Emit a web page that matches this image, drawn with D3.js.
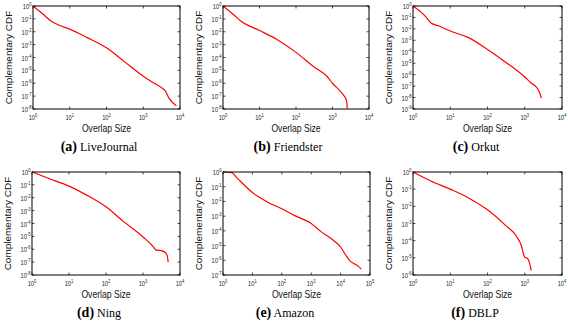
<!DOCTYPE html>
<html><head><meta charset="utf-8">
<script src="https://cdn.jsdelivr.net/npm/d3@7"></script>
<style>
html,body{margin:0;padding:0;background:#fff;}
svg{display:block;}
</style></head>
<body>
<svg id="chart" width="568" height="322"></svg>
<script>
// ---- Data ----
const panelLetters = ["a","b","c","d","e","f"];
const panelNames = ["LiveJournal","Friendster","Orkut","Ning","Amazon","DBLP"];
const xAxisLabel = "Overlap Size";
const yAxisLabel = "Complementary CDF";

// x-axis decades (max exponent) and y-axis decades (min exponent) per panel
const xMaxExp = [4,4,4,4,5,4];
const yMinExp = [-8,-8,-9,-8,-7,-6];

const liveJournalX = [1,2,3,5,10,30,100,300,1000,2000,3000,4000,5000,8000];
const liveJournalY = [1,2.0e-1,7.2e-2,3.3e-2,1.6e-2,3.5e-3,5.6e-4,5.0e-5,3.5e-6,1.0e-6,5.0e-7,2.5e-7,7.0e-8,1.8e-8];

const friendsterX = [1,2,3,10,30,100,300,700,1000,2000,2400,2500,2520];
const friendsterY = [1,2.0e-1,7.1e-2,1.26e-2,2.5e-3,2.5e-4,2.0e-5,3.5e-6,1.0e-6,1.2e-7,5.0e-8,2.5e-8,1.1e-8];

const orkutX = [1,2,3,5,10,30,100,300,1000,1500,2000,2500,2800];
const orkutY = [1,1.6e-1,3.5e-2,1.8e-2,6.5e-3,1.8e-3,1.6e-4,1.3e-5,6.3e-7,1.8e-7,9.0e-8,2.8e-8,9.0e-9];

const ningX = [1,3,10,30,100,300,1000,2000,2200,3000,4000,4500,4800];
const ningY = [1,3.0e-1,8.0e-2,1.6e-2,2.0e-3,1.4e-4,9.0e-6,1.3e-6,9.0e-7,8.0e-7,5.6e-7,3.2e-7,1.0e-7];

const amazonX = [1,2,3,10,30,100,300,1000,2000,5000,10000,15000,20000,30000,40000,50000];
const amazonY = [1,9.0e-1,4.0e-1,4.0e-2,1.0e-2,3.2e-3,1.0e-3,3.2e-4,1.0e-4,2.8e-5,8.0e-6,2.2e-6,1.0e-6,5.6e-7,4.0e-7,2.5e-7];

const dblpX = [1,3,10,30,100,300,600,800,1000,1200,1400,1500];
const dblpY = [1,3.0e-1,1.0e-1,3.2e-2,6.3e-3,8.0e-4,1.8e-4,5.6e-5,1.1e-5,9.0e-6,3.5e-6,1.8e-6];

const seriesX = [liveJournalX, friendsterX, orkutX, ningX, amazonX, dblpX];
const seriesY = [liveJournalY, friendsterY, orkutY, ningY, amazonY, dblpY];

// ---- Layout ----
const frames = [
  {l:33, r:180, t:6, b:109},
  {l:223, r:369, t:6, b:109},
  {l:413, r:562, t:6, b:109},
  {l:32, r:180, t:172, b:275},
  {l:223, r:370, t:172, b:275},
  {l:413, r:562, t:172, b:275}
];
const captionX = [99, 288, 476, 99, 285, 475];
const captionY = [151, 151, 151, 317, 317, 317];
const SQ = 0.82; // horizontal squeeze of the figure's sans text

const svg = d3.select("#chart");
const sans = "Liberation Sans, Arial, Helvetica, sans-serif";
const serif = "Liberation Serif, Times New Roman, serif";

function powLabel(sel, exp, baseSize){
  sel.append("tspan").text("10");
  sel.append("tspan").attr("dy", -3).attr("font-size", baseSize*0.72).text(String(exp));
}

frames.forEach((f, i) => {
  const x = d3.scaleLog().domain([1, Math.pow(10, xMaxExp[i])]).range([f.l, f.r]);
  const y = d3.scaleLog().domain([Math.pow(10, yMinExp[i]), 1]).range([f.b, f.t]);
  const g = svg.append("g");

  const xExps = d3.range(0, xMaxExp[i]+1);
  const yExps = d3.range(yMinExp[i], 1);

  // ticks (inward) on all sides
  const tl = 2.5;
  xExps.forEach(e => {
    const px = x(Math.pow(10,e));
    g.append("line").attr("x1",px).attr("x2",px).attr("y1",f.b).attr("y2",f.b-tl).attr("stroke","#000").attr("stroke-width",0.7);
    g.append("line").attr("x1",px).attr("x2",px).attr("y1",f.t).attr("y2",f.t+tl).attr("stroke","#000").attr("stroke-width",0.7);
    const lab = g.append("g").attr("transform", `translate(${px},${f.b+10.5}) scale(${SQ},1)`)
      .append("text").attr("text-anchor","middle").attr("font-family",sans).attr("font-size",7).attr("fill","#222");
    powLabel(lab, e, 7);
  });
  yExps.forEach(e => {
    const py = y(Math.pow(10,e));
    g.append("line").attr("x1",f.l).attr("x2",f.l+tl).attr("y1",py).attr("y2",py).attr("stroke","#000").attr("stroke-width",0.7);
    g.append("line").attr("x1",f.r).attr("x2",f.r-tl).attr("y1",py).attr("y2",py).attr("stroke","#000").attr("stroke-width",0.7);
    const lab = g.append("g").attr("transform", `translate(${f.l-1.5},${py+3}) scale(${SQ},1)`)
      .append("text").attr("text-anchor","end").attr("font-family",sans).attr("font-size",7).attr("fill","#222");
    powLabel(lab, e, 7);
  });

  // data line
  const pts = seriesX[i].map((v, k) => [v, seriesY[i][k]]);
  g.append("path").datum(pts)
    .attr("d", d3.line().x(d => x(d[0])).y(d => y(d[1])).curve(d3.curveMonotoneX))
    .attr("fill","none").attr("stroke","#ff0000").attr("stroke-width",1.2);

  // frame
  g.append("rect").attr("x",f.l).attr("y",f.t).attr("width",f.r-f.l).attr("height",f.b-f.t)
    .attr("fill","none").attr("stroke","#000").attr("stroke-width",1);

  // x label
  g.append("g").attr("transform", `translate(${(f.l+f.r)/2},${f.b+23}) scale(${SQ},1)`)
    .append("text").attr("text-anchor","middle").attr("font-family",sans).attr("font-size",10.5).attr("fill","#111").text(xAxisLabel);

  // y label
  g.append("g").attr("transform", `translate(${f.l-21},${(f.t+f.b)/2}) scale(${SQ},1) rotate(-90)`)
    .append("text").attr("text-anchor","middle").attr("font-family",sans).attr("font-size",10).attr("fill","#111").text(yAxisLabel);

  // caption
  const cap = g.append("text").attr("x", captionX[i]).attr("y", captionY[i]).attr("text-anchor","middle")
    .attr("font-family", serif).attr("fill","#000");
  cap.append("tspan").attr("font-weight","bold").attr("font-size",14).text(`(${panelLetters[i]})`);
  cap.append("tspan").attr("font-size",12).text(" " + panelNames[i]);
});
</script>
</body></html>
